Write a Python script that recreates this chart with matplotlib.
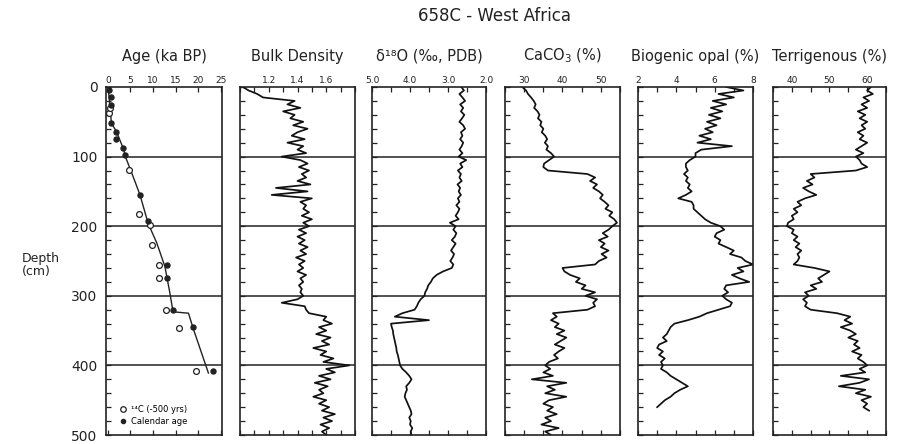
import numpy as np
import matplotlib
matplotlib.use("Agg")
import matplotlib.pyplot as plt
from matplotlib.lines import Line2D
from matplotlib.ticker import MultipleLocator, FixedLocator

plt.rcParams['font.family'] = ['DejaVu Sans']
plt.rcParams['mathtext.default'] = 'regular'

# ---------------- data ----------------
# Age model (calendar ages, ka) vs depth (cm)
model_age = [0.07, 0.8, 1.9, 3.4, 4.0, 5.6, 7.1, 8.9, 10.8, 12.6, 13.7, 14.4, 17.8, 18.9, 22.2]
model_depth = [0, 52, 64, 88, 102, 129, 155, 196, 224, 258, 296, 323, 325, 348, 411]

cal_age = [0.3, 0.6, 0.6, 0.8, 1.9, 1.8, 3.4, 3.8, 7.1, 8.9, 13.0, 13.1, 14.4, 18.9, 23.2]
cal_depth = [4, 14, 26, 52, 64, 74, 88, 98, 155, 193, 256, 275, 321, 345, 408]

c14_age = [0.3, 0.5, 4.7, 6.9, 9.4, 9.7, 11.4, 11.4, 12.8, 15.8, 19.5]
c14_depth = [38, 30, 119, 183, 198, 227, 256, 275, 321, 346, 408]

# Down-core records, sampled every 5 cm
depth_full = np.arange(0, 505, 5)

bulk_density = [
    1.02, 1.06, 1.12, 1.16, 1.38, 1.33, 1.42, 1.30, 1.38, 1.35,
    1.44, 1.37, 1.47, 1.40, 1.36, 1.45, 1.33, 1.44, 1.40, 1.46,
    1.29, 1.42, 1.47, 1.41, 1.48, 1.43, 1.46, 1.40, 1.49, 1.25,
    1.47, 1.22, 1.50, 1.42, 1.46, 1.44, 1.48, 1.43, 1.50, 1.44,
    1.48, 1.41, 1.46, 1.40, 1.45, 1.41, 1.47, 1.42, 1.46, 1.39,
    1.45, 1.41, 1.44, 1.40, 1.46, 1.42, 1.44, 1.41, 1.43, 1.42,
    1.44, 1.40, 1.29, 1.45, 1.46, 1.48, 1.60, 1.58, 1.64, 1.55,
    1.60, 1.53, 1.63, 1.57, 1.62, 1.51, 1.60, 1.56, 1.65, 1.58,
    1.76, 1.60, 1.66, 1.55, 1.63, 1.52, 1.61, 1.55, 1.58, 1.51,
    1.60, 1.55, 1.62, 1.57, 1.66, 1.58, 1.64, 1.56, 1.62, 1.57,
    1.60]

d18o = [
    2.65, 2.58, 2.70, 2.62, 2.55, 2.68, 2.60, 2.66, 2.57, 2.63,
    2.70, 2.60, 2.55, 2.66, 2.62, 2.68, 2.60, 2.64, 2.70, 2.62,
    2.72, 2.52, 2.68, 2.62, 2.74, 2.66, 2.70, 2.64, 2.75, 2.68,
    2.72, 2.66, 2.74, 2.70, 2.78, 2.70, 2.74, 2.80, 2.72, 2.95,
    2.80, 2.86, 2.78, 2.82, 2.90, 2.80, 2.86, 2.92, 2.84, 2.88,
    2.94, 2.86, 2.90, 3.13, 3.30, 3.40, 3.45, 3.52, 3.55, 3.60,
    3.62, 3.72, 3.78, 3.82, 3.88, 4.20, 4.40, 3.50, 4.50, 4.48,
    4.45, 4.44, 4.42, 4.40, 4.38, 4.36, 4.35, 4.32, 4.30, 4.28,
    4.26, 4.20, 4.10, 4.02, 3.96, 4.02, 4.10, 4.08, 4.12, 4.14,
    4.10, 4.06, 4.02, 3.98, 3.96, 4.02, 3.98, 4.00, 3.94, 3.98,
    3.96]

caco3 = [
    29.5, 30.5, 31.0, 31.8, 32.5, 33.0, 32.6, 33.5, 34.0, 33.6,
    34.5, 34.2, 35.0, 34.6, 35.5, 36.0, 35.4, 36.2, 35.8, 37.0,
    37.8, 36.5, 35.2, 35.0, 36.2, 46.5, 48.5, 47.2, 49.0, 48.0,
    49.5, 50.5, 49.8, 51.0, 52.0, 51.2, 53.0, 52.2, 53.5, 54.2,
    53.0, 52.0, 50.5, 51.8, 49.5, 51.0, 50.0, 52.0, 50.2, 51.5,
    49.5, 48.5, 40.0, 40.5, 42.0, 44.5, 43.5, 46.0, 45.0, 48.5,
    46.0, 49.0, 48.0, 48.5, 46.5, 37.5, 38.5, 37.0, 39.0, 38.0,
    40.5, 38.5, 41.0, 39.5, 38.0, 40.5, 39.0, 37.8, 38.8, 36.5,
    35.5, 36.8, 35.0, 37.5, 32.0, 41.0, 36.0, 38.0, 35.5, 41.0,
    36.5, 35.0, 37.5, 36.0, 38.5, 35.5, 37.0, 34.5, 39.0, 35.5,
    37.0]

depth_opal = np.arange(0, 465, 5)
opal = [
    6.6, 7.5, 6.2, 7.0, 5.9, 6.6, 5.8, 6.4, 5.7, 6.3,
    5.6, 6.1, 5.5, 5.9, 5.2, 5.8, 5.1, 6.9, 5.3, 5.0,
    5.0, 4.7, 4.5, 4.5, 4.6, 4.4, 4.6, 4.5, 4.7, 4.6,
    4.8, 4.5, 4.1, 4.8, 4.9, 4.9, 5.1, 5.3, 5.5, 5.8,
    6.3, 6.5, 6.1, 6.0, 6.3, 6.2, 6.6, 7.0, 6.8, 7.4,
    7.6, 8.0, 7.2, 7.5, 6.9, 7.3, 7.8, 6.6, 6.5, 6.7,
    6.4, 6.6, 6.9, 6.8, 6.2, 5.6, 5.2, 4.6, 3.9, 3.7,
    3.6, 3.5, 3.3, 3.5, 3.1, 3.0, 3.3, 3.1, 3.4, 3.2,
    3.3, 3.2, 3.5, 3.7, 4.0, 4.3, 4.6, 4.2, 3.9, 3.7,
    3.4, 3.2, 3.0]

depth_terr = np.arange(0, 470, 5)
terrigenous = [
    61, 60, 61.5, 59, 60.5, 58.5, 60, 57.5, 59.5, 58,
    60, 58.5, 59.5, 57.5, 59, 58, 60, 58.5, 57, 59,
    57, 58, 58.5, 60, 57, 45, 46, 44, 45.5, 43,
    44.5, 46.5, 43.5, 41.5, 42.5, 40.5, 41.5, 40, 40.5, 39,
    38.7, 40.5, 40, 41.5, 40.5, 42, 41, 42.5, 41.5, 42,
    41.5, 40.5, 46, 50, 48.5, 47, 48, 45, 46.5, 43.5,
    44.5, 43, 44, 43.5, 45, 52, 55.5, 54, 56, 53,
    55.5, 57, 55, 57.5, 56.5, 58, 56, 58.5, 57.5, 59,
    60, 58, 59.5, 53, 60.5, 58, 52.5, 59.5, 57, 61,
    58.5, 60, 59, 60.5]

titles = ["Age (ka BP)", "Bulk Density", "\u03b4\u00b9\u2078O (\u2030, PDB)",
          "CaCO$_3$ (%)", "Biogenic opal (%)", "Terrigenous (%)"]

# ---------------- figure ----------------
W, H = 902, 444
fig = plt.figure(figsize=(W / 100, H / 100), dpi=100)
Y0, Y1 = 87, 435


def rect(x0, x1):
    return [x0 / W, 1 - Y1 / H, (x1 - x0) / W, (Y1 - Y0) / H]


panel_px = [(106, 222), (240, 355), (372, 486), (505, 620), (638, 753), (773, 886)]
xlims = [(-0.4, 25.2), (1.0, 1.8), (5.0, 2.0), (25, 55), (2, 8), (35, 65)]
majors = [[0, 5, 10, 15, 20, 25], [1.2, 1.4, 1.6], [5.0, 4.0, 3.0, 2.0],
          [30, 40, 50], [2, 4, 6, 8], [40, 50, 60]]
major_fmt = [lambda v: f"{v:g}", lambda v: f"{v:.1f}", lambda v: f"{v:.1f}",
             lambda v: f"{v:g}", lambda v: f"{v:g}", lambda v: f"{v:g}"]
minors = [None, 0.1, 0.5, 5, 1, 5]

axes = []
for i, (px, xl) in enumerate(zip(panel_px, xlims)):
    ax = fig.add_axes(rect(*px))
    ax.set_xlim(*xl)
    ax.set_ylim(500, 0)
    ax.xaxis.set_major_locator(FixedLocator(majors[i]))
    ax.set_xticklabels([major_fmt[i](v) for v in majors[i]])
    if minors[i]:
        ax.xaxis.set_minor_locator(MultipleLocator(minors[i]))
    ax.tick_params(axis='x', which='both', direction='in', top=True, bottom=True,
                   labeltop=True, labelbottom=False, labelsize=6.5, length=3.5,
                   width=0.9, pad=1.5, colors='#222')
    ax.yaxis.set_major_locator(MultipleLocator(100))
    ax.yaxis.set_minor_locator(MultipleLocator(20))
    ax.tick_params(axis='y', which='both', direction='in', left=True, right=False,
                   labelleft=(i == 0), length=3.5, width=0.9, labelsize=10, pad=6,
                   colors='#222')
    for s in ax.spines.values():
        s.set_linewidth(1.2)
        s.set_color('#222')
    for d in [100, 200, 300, 400]:
        ax.axhline(d, color='#222', lw=1.1, zorder=1)
    cx = (px[0] + px[1]) / 2 / W
    fig.text(cx, 1 - 56 / H, titles[i], ha='center', va='center', fontsize=10.5,
             color='#222')
    axes.append(ax)

ax_age, ax_bd, ax_o, ax_c, ax_op, ax_t = axes

lw = 1.25
ax_age.plot(model_age, model_depth, color='#222', lw=1.0, zorder=2)
ax_age.plot(c14_age, c14_depth, 'o', mfc='white', mec='#222', ms=4.2, mew=0.9, zorder=3)
ax_age.plot(cal_age, cal_depth, 'o', color='#222', ms=3.6, zorder=4)
handles = [Line2D([], [], ls='none', marker='o', mfc='white', mec='#222', ms=4, mew=0.9),
           Line2D([], [], ls='none', marker='o', color='#222', ms=3)]
ax_age.legend(handles, ["\u00b9\u2074C (-500 yrs)", "Calendar age"], loc='lower left',
              bbox_to_anchor=(0.06, 0.01), fontsize=6, frameon=False,
              handlelength=1.0, handletextpad=0.5, labelspacing=0.3, borderpad=0.2)

ax_bd.plot(bulk_density, depth_full, color='#111', lw=lw, zorder=2)
ax_o.plot(d18o, depth_full, color='#111', lw=lw, zorder=2)
ax_c.plot(caco3, depth_full, color='#111', lw=lw, zorder=2)
ax_op.plot(opal, depth_opal, color='#111', lw=lw, zorder=2)
ax_t.plot(terrigenous, depth_terr, color='#111', lw=lw, zorder=2)

fig.text(494 / W, 1 - 16 / H, "658C - West Africa", ha='center', va='center',
         fontsize=12, color='#222')
fig.text(22 / W, 1 - 265 / H, "Depth\n(cm)", ha='left', va='center', fontsize=9,
         color='#222', linespacing=1.0)

fig.savefig("out.png", dpi=100)
